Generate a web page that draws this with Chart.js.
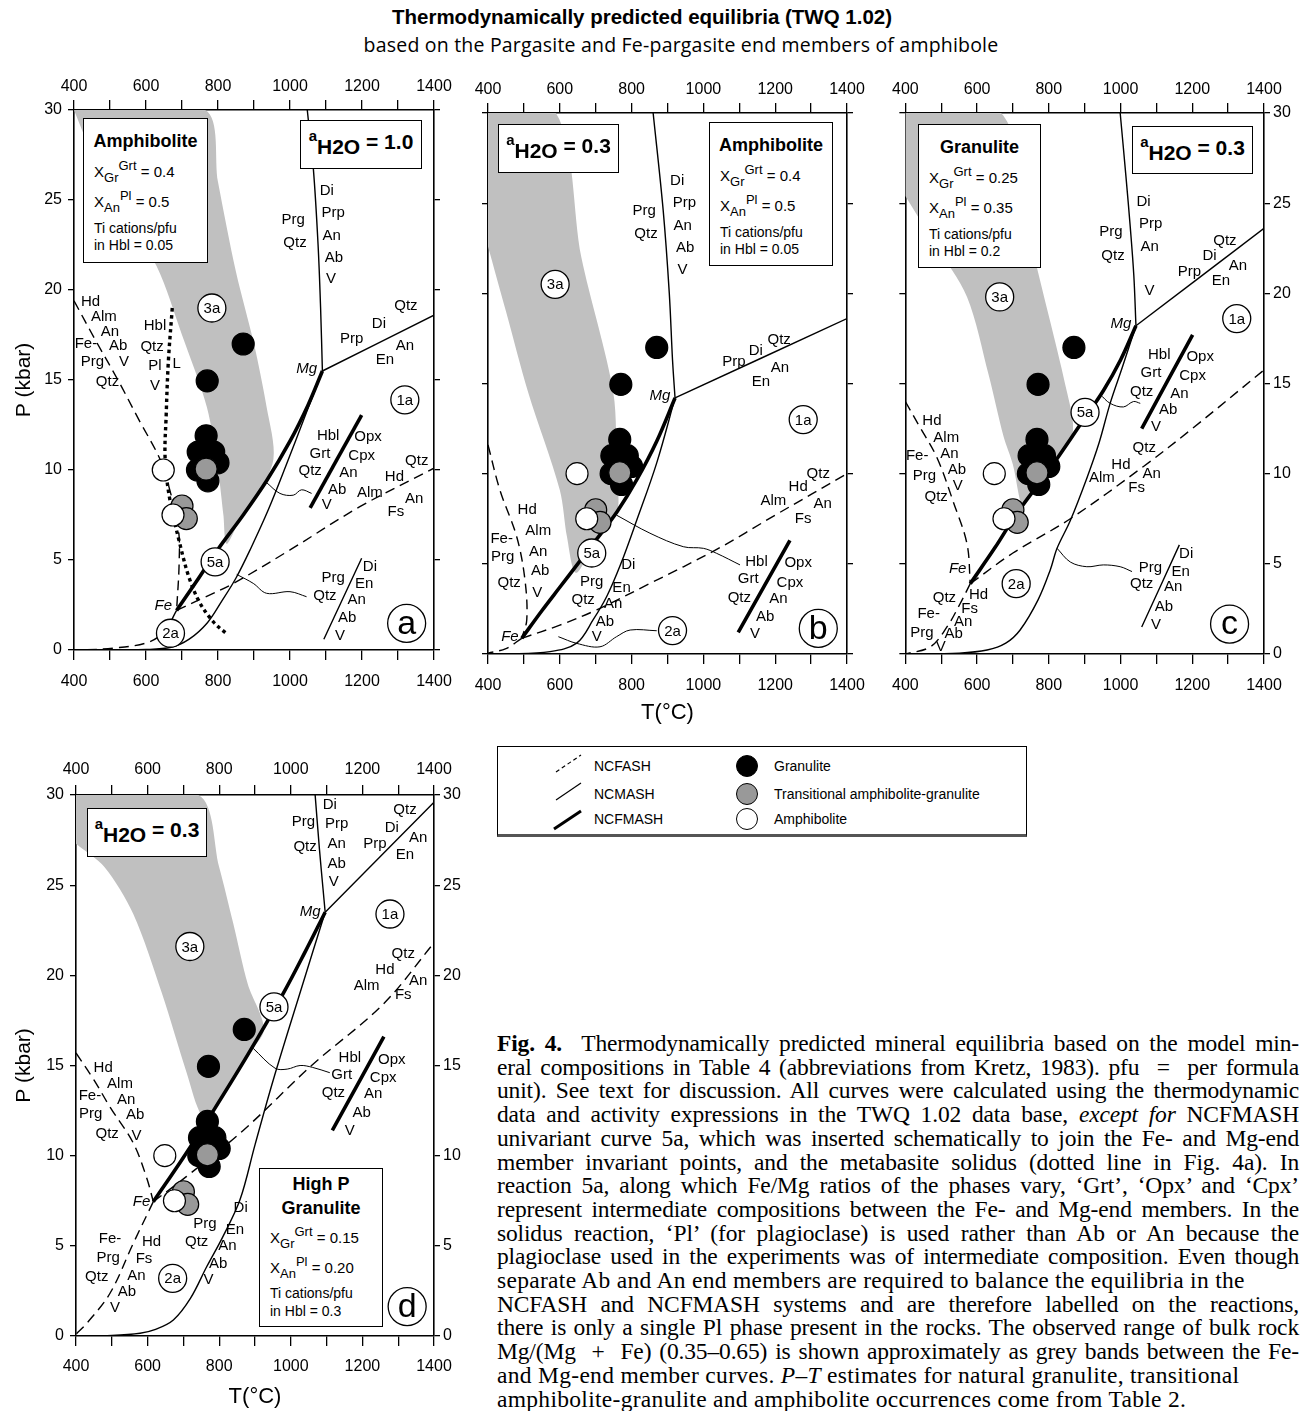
<!DOCTYPE html>
<html>
<head>
<meta charset="utf-8">
<title>Thermodynamically predicted equilibria (TWQ 1.02)</title>
<script src="https://cdn.jsdelivr.net/npm/chart.js@4.4.1/dist/chart.umd.min.js"></script>
<style>
  body { margin:0; width:1300px; height:1411px; position:relative; overflow:hidden; background:#fff; color:#000;
         font-family:Arial,"Liberation Sans",sans-serif; }
  canvas { position:absolute; }
  .head { position:absolute; white-space:nowrap; text-align:center; }
  .box { position:absolute; box-sizing:border-box; border:1.6px solid #000; background:#fff; z-index:5; }
  .box div { position:absolute; left:0; right:0; white-space:nowrap; line-height:20px; }
  .aw { top:11px; text-align:center; font-weight:bold; font-size:21px; }
  .aw .s { font-size:15px; position:relative; top:-8px; }
  .aw .h { position:relative; top:5px; }
  .ct { text-align:center; font-weight:bold; font-size:18px; }
  .cx { padding-left:10px; font-size:15px; }
  .cs { padding-left:10px; font-size:14px; }
  .sb { font-size:13px; position:relative; top:5px; }
  .sp { font-size:13px; position:relative; top:-7px; }
  #legend { position:absolute; left:497px; top:746px; width:530px; height:91px; box-sizing:border-box;
            border:1px solid #000; border-bottom:3px solid #555; font-size:14px; }
  #legend .t { position:absolute; line-height:16px; white-space:nowrap; }
  #legend .dot { position:absolute; width:22px; height:22px; border-radius:50%; border:1.3px solid #000; box-sizing:border-box; }
  .cap { position:absolute; left:497px; top:1032px; width:802px; font-family:"Liberation Serif","Times New Roman",serif;
         font-size:23.5px; line-height:23.7px; }
  .cap div { text-align:justify; text-align-last:justify; white-space:normal; }
  .cap div.r { text-align-last:left; }
</style>
</head>
<body>

<div class="head" style="left:0;width:1284px;top:5px;font-weight:bold;font-size:20.5px">Thermodynamically predicted equilibria (TWQ 1.02)</div>
<div class="head" style="left:0;width:1362px;top:31px;font-family:'Open Sans',sans-serif;font-size:19.5px;letter-spacing:0.2px">based on the Pargasite and Fe-pargasite end members of amphibole</div>

<canvas id="pa" width="480" height="680" style="left:0;top:60px"></canvas>
<canvas id="pb" width="450" height="680" style="left:440px;top:60px"></canvas>
<canvas id="pc" width="420" height="680" style="left:880px;top:60px"></canvas>
<canvas id="pd" width="480" height="671" style="left:0;top:740px"></canvas>

<!-- panel a boxes -->
<div class="box" style="left:300px;top:120px;width:122px;height:49px"><div class="aw"><span class="s">a</span><span class="h">H2O</span> = 1.0</div></div>
<div class="box" style="left:83px;top:118px;width:125px;height:145px">
  <div class="ct" style="top:12px">Amphibolite</div>
  <div class="cx" style="top:43px">X<span class="sb">Gr</span><span class="sp">Grt</span> = 0.4</div>
  <div class="cx" style="top:73px">X<span class="sb">An</span><span class="sp">Pl</span> = 0.5</div>
  <div class="cs" style="top:99px">Ti cations/pfu</div>
  <div class="cs" style="top:116px">in Hbl = 0.05</div>
</div>
<!-- panel b boxes -->
<div class="box" style="left:498px;top:124px;width:121px;height:49px"><div class="aw"><span class="s">a</span><span class="h">H2O</span> = 0.3</div></div>
<div class="box" style="left:709px;top:122px;width:124px;height:144px">
  <div class="ct" style="top:12px">Amphibolite</div>
  <div class="cx" style="top:43px">X<span class="sb">Gr</span><span class="sp">Grt</span> = 0.4</div>
  <div class="cx" style="top:73px">X<span class="sb">An</span><span class="sp">Pl</span> = 0.5</div>
  <div class="cs" style="top:99px">Ti cations/pfu</div>
  <div class="cs" style="top:116px">in Hbl = 0.05</div>
</div>
<!-- panel c boxes -->
<div class="box" style="left:1132px;top:126px;width:121px;height:48px"><div class="aw"><span class="s">a</span><span class="h">H2O</span> = 0.3</div></div>
<div class="box" style="left:918px;top:124px;width:123px;height:144px">
  <div class="ct" style="top:12px">Granulite</div>
  <div class="cx" style="top:43px">X<span class="sb">Gr</span><span class="sp">Grt</span> = 0.25</div>
  <div class="cx" style="top:73px">X<span class="sb">An</span><span class="sp">Pl</span> = 0.35</div>
  <div class="cs" style="top:99px">Ti cations/pfu</div>
  <div class="cs" style="top:116px">in Hbl = 0.2</div>
</div>
<!-- panel d boxes -->
<div class="box" style="left:87px;top:808px;width:120px;height:49px"><div class="aw"><span class="s">a</span><span class="h">H2O</span> = 0.3</div></div>
<div class="box" style="left:259px;top:1168px;width:124px;height:159px">
  <div class="ct" style="top:5px">High P</div>
  <div class="ct" style="top:29px">Granulite</div>
  <div class="cx" style="top:59px">X<span class="sb">Gr</span><span class="sp">Grt</span> = 0.15</div>
  <div class="cx" style="top:89px">X<span class="sb">An</span><span class="sp">Pl</span> = 0.20</div>
  <div class="cs" style="top:114px">Ti cations/pfu</div>
  <div class="cs" style="top:132px">in Hbl = 0.3</div>
</div>

<div id="legend">
  <svg width="530" height="91" style="position:absolute;left:-1px;top:-1px">
    <line x1="59" y1="26" x2="84" y2="9" stroke="#000" stroke-width="1.2" stroke-dasharray="4,3"/>
    <line x1="59" y1="54" x2="84" y2="37" stroke="#000" stroke-width="1.2"/>
    <line x1="57" y1="83" x2="84" y2="65" stroke="#000" stroke-width="3"/>
  </svg>
  <div class="t" style="left:96px;top:11px">NCFASH</div>
  <div class="t" style="left:96px;top:39px">NCMASH</div>
  <div class="t" style="left:96px;top:64px">NCFMASH</div>
  <div class="dot" style="left:238px;top:8px;background:#000"></div>
  <div class="dot" style="left:238px;top:36px;background:#999"></div>
  <div class="dot" style="left:238px;top:61px;background:#fff"></div>
  <div class="t" style="left:276px;top:11px">Granulite</div>
  <div class="t" style="left:276px;top:39px">Transitional amphibolite-granulite</div>
  <div class="t" style="left:276px;top:64px">Amphibolite</div>
</div>

<div class="cap" id="cap">
  <div><b>Fig. 4.</b>&nbsp; Thermodynamically predicted mineral equilibria based on the model min-</div>
  <div>eral compositions in Table 4 (abbreviations from Kretz, 1983). pfu &nbsp;= &nbsp;per formula</div>
  <div>unit). See text for discussion. All curves were calculated using the thermodynamic</div>
  <div>data and activity expressions in the TWQ 1.02 data base, <i>except for</i> NCFMASH</div>
  <div>univariant curve 5a, which was inserted schematically to join the Fe- and Mg-end</div>
  <div>member invariant points, and the metabasite solidus (dotted line in Fig. 4a). In</div>
  <div>reaction 5a, along which Fe/Mg ratios of the phases vary, ‘Grt’, ‘Opx’ and ‘Cpx’</div>
  <div>represent intermediate compositions between the Fe- and Mg-end members. In the</div>
  <div>solidus reaction, ‘Pl’ (for plagioclase) is used rather than Ab or An because the</div>
  <div>plagioclase used in the experiments was of intermediate composition. Even though</div>
  <div class="r">separate Ab and An end members are required to balance the equilibria in the</div>
  <div>NCFASH and NCFMASH systems and are therefore labelled on the reactions,</div>
  <div>there is only a single Pl phase present in the rocks. The observed range of bulk rock</div>
  <div>Mg/(Mg &nbsp;+ &nbsp;Fe) (0.35–0.65) is shown approximately as grey bands between the Fe-</div>
  <div class="r">and Mg-end member curves. <i>P–T</i> estimates for natural granulite, transitional</div>
  <div class="r">amphibolite-granulite and amphibolite occurrences come from Table 2.</div>
</div>

<script>
// axis labels
var tLabels = [400, 600, 800, 1000, 1200, 1400];
var pLabels = [0, 5, 10, 15, 20, 25, 30];

// natural P-T estimates (T in °C, P in kbar), same in every panel
var granulite    = [[870,17.0],[770,14.95],[767,11.9],[745,11.0],[788,11.0],[800,10.4],[743,10.0],[772,9.4]];
var transitional = [[767,10.05],[700,8.0],[712,7.3]];
var amphibolite  = [[648,10.0],[675,7.5]];

// ---- panel a : aH2O = 1.0
var a_band    = [[400,30],[764,30],[800,26],[850,21],[900,17],[935,13.5],[954,10.6],[900,8.3],[860,7.2],[824,5.9],
                 [815,7.5],[800,10],[769,13.5],[700,17.5],[630,21.3],[520,25],[430,28.5]];
var a_mgUp    = [[1048,30],[1065,26.7],[1078,22.5],[1085,19.0],[1090,15.5]];
var a_mgRight = [[1090,15.5],[1400,18.6]];
var a_fePrg   = [[400,19.4],[460,17.2],[522,15.0],[580,12.8],[639,10.6],[662,9.2],[690,6.7],[692,4.8],[685,2.2]];
var a_feRight = [[685,2.2],[760,2.9],[843,3.7],[1000,5.56],[1194,7.96],[1400,10.1]];
var a_feLow   = [[685,2.2],[650,1.0],[602,0.4],[508,0.1],[420,0.0]];
var a_r5a     = [[685,2.2],[740,3.8],[800,5.6],[870,7.5],[935,9.4],[1000,11.6],[1050,13.6],[1090,15.5]];
var a_r2a     = [[1090,15.5],[1040,12.9],[990,10.3],[940,7.8],[890,5.6],[850,4.0],[810,2.7],[770,1.5],[720,0.6],
                 [670,0.15],[600,0.03],[420,0]];
var a_solidus = [[673,19],[662,16],[656,13],[653,10.7],[665,8.5],[694,5.9],[720,4],[750,2.6],[790,1.5],[824,0.9]];
var a_hblKey  = [[1056,7.9],[1199,13.05]];
var a_prgKey  = [[1094,0.6],[1199,5.1]];
var a_lead5a  = [[935,9.3],[972,8.7],[1009,8.6],[1032,8.9],[1060,8.7]];
var a_lead2a  = [[852,4.2],[898,3.7],[935,3.15],[1000,3.24],[1046,2.96]];

// ---- panel b : aH2O = 0.3, amphibolite composition
var b_band    = [[400,30],[589,30],[660,22],[749,14.5],[758,10],[760,7.9],[700,6.3],[645,4.5],[620,6.5],[600,9.1],
                 [512,14.5],[450,19],[400,22.6]];
var b_mgUp    = [[860,30],[888,24.6],[905,20],[914,16.3],[921,14.2]];
var b_mgRight = [[921,14.2],[1400,18.6]];
var b_fePrg   = [[400,11.6],[433,9.1],[480,6.5],[503,4.1],[508,1.9],[494,0.87]];
var b_feRight = [[494,0.87],[600,1.6],[703,2.45],[850,3.9],[1037,5.8],[1200,7.7],[1400,10.0]];
var b_feLow   = [[494,0.87],[450,0.3],[400,0.05]];
var b_r5a     = [[494,0.87],[550,2.4],[600,3.7],[650,5.0],[700,6.3],[760,7.9],[814,9.65],[870,11.8],[921,14.2]];
var b_r2a     = [[921,14.2],[870,10.6],[814,7.4],[770,5.0],[731,3.2],[693,1.9],[647,0.6],[573,0.13],[450,0],[400,0]];
var b_hblKey  = [[1097,1.2],[1241,6.3]];
var b_lead5a  = [[758,7.7],[851,6.7],[944,5.95],[1000,5.86],[1037,5.58],[1102,4.94]];
var b_lead2a  = [[596,0.96],[647,0.59],[712,0.4],[758,0.96],[796,1.33],[870,1.29]];

// ---- panel c : aH2O = 0.3, granulite composition
var c_band    = [[400,30],[667,30],[760,22],[851,14.5],[866,12.2],[804,10.3],[740,8.6],[725,8.2],[700,10.5],[674,12.05],
                 [632,15.5],[572,19.8],[480,22.8],[400,25.4]];
var c_mgUp    = [[999,30],[1015,26.5],[1027,23.7],[1037,21],[1043,18.2]];
var c_mgRight = [[1043,18.2],[1400,23.6]];
var c_fePrg   = [[400,14.0],[440,12.6],[488,10.9],[535,8.36],[572,6.1],[581,3.9]];
var c_feRight = [[581,3.9],[700,5.6],[860,7.5],[1064,10.4],[1200,12.5],[1400,15.75]];
var c_feLow   = [[581,3.9],[553,2.8],[516,1.5],[470,0.4],[400,0]];
var c_r5a     = [[581,3.9],[650,5.9],[711,7.8],[804,10.3],[887,12.7],[952,14.6],[1000,16.3],[1043,18.2]];
var c_r2a     = [[1043,18.2],[1005,15.9],[971,13.9],[940,11.7],[906,9.75],[860,7.4],[823,5.86],[804,4.66],[770,3.0],
                 [720,1.33],[680,0.6],[628,0.22],[550,0.05],[400,0]];
var c_hblKey  = [[1059,12.5],[1201,17.7]];
var c_prgKey  = [[1059,1.5],[1164,6.05]];
var c_lead5a  = [[943,14.4],[971,13.9],[1008,13.7],[1036,14.0],[1055,13.9]];
var c_lead2a  = [[823,5.86],[860,5.1],[906,4.84],[952,4.94],[999,4.84],[1032,4.57]];

// ---- panel d : aH2O = 0.3, high P granulite composition
var d_band    = [[400,30],[742,30],[800,26],[839,22.9],[880,19.5],[925,17.0],[880,15.6],[820,13.7],[784,12.5],[752,12.2],
                 [709,14.6],[640,19],[560,23.4],[480,26],[400,27.3]];
var d_mgUp    = [[1068,30],[1080,27],[1090,24.8],[1096,23.5]];
var d_mgRight = [[1096,23.5],[1400,29.6]];
var d_fePrg   = [[400,15.7],[450,14.2],[495,12.7],[560,10.7],[597,8.8],[616,7.45]];
var d_feRight = [[616,7.45],[709,8.85],[867,11.4],[1058,15.0],[1258,18.4],[1400,21.8]];
var d_feLow   = [[616,7.45],[560,5.14],[495,2.37],[430,0.7],[400,0.1]];
var d_r5a     = [[616,7.45],[700,9.9],[784,12.5],[880,15.6],[979,19.0],[1040,21.3],[1096,23.5]];
var d_r2a     = [[1096,23.5],[1030,19.3],[951,14.2],[900,10.6],[858,7.55],[810,5.5],[765,3.84],[720,2.1],[672,0.89],
                 [620,0.35],[579,0.15],[500,0.03],[400,0]];
var d_hblKey  = [[1116,11.4],[1260,16.6]];
var d_lead5a  = [[895,15.95],[956,14.85],[990,14.8],[1026,15.0],[1060,14.9],[1109,14.6]];

// phase labels, invariant points and reaction numbers, placed at (T, P)
var notes = {
  pa: {
    words: [[1009,23.9,'Prg'],[1014,22.6,'Qtz'],[1102,25.5,'Di'],[1120,24.3,'Prp'],[1116,23.0,'An'],[1122,21.8,'Ab'],[1114,20.6,'V'],
            [1322,19.1,'Qtz'],[1247,18.1,'Di'],[1171,17.3,'Prp'],[1319,16.9,'An'],[1264,16.1,'En'],
            [446,19.35,'Hd'],[483,18.5,'Alm'],[500,17.7,'An'],[433,17.0,'Fe-'],[523,16.9,'Ab'],[451,16.0,'Prg'],[539,16.0,'V'],[493,14.9,'Qtz'],
            [625,18.0,'Hbl'],[617,16.85,'Qtz'],[625,15.8,'Pl'],[625,14.7,'V'],[685,15.9,'L'],
            [1106,11.9,'Hbl'],[1083,10.9,'Grt'],[1056,9.96,'Qtz'],[1217,11.85,'Opx'],[1199,10.8,'Cpx'],[1162,9.85,'An'],[1131,8.9,'Ab'],[1102,8.05,'V'],
            [1352,10.5,'Qtz'],[1290,9.6,'Hd'],[1222,8.75,'Alm'],[1345,8.4,'An'],[1294,7.7,'Fs'],
            [1222,4.6,'Di'],[1120,4.0,'Prg'],[1206,3.67,'En'],[1097,3.0,'Qtz'],[1185,2.8,'An'],[1159,1.8,'Ab'],[1139,0.8,'V']],
    italic: [[1046,15.6,'Mg'],[648,2.44,'Fe']],
    circles: [[783,19.0,'3a'],[1319,13.9,'1a'],[792,4.9,'5a'],[668,0.93,'2a']],
    big: [[1324,1.48,'a']]
  },
  pb: {
    words: [[927,26.25,'Di'],[947,25.0,'Prp'],[942,23.75,'An'],[949,22.5,'Ab'],[942,21.3,'V'],[835,24.6,'Prg'],[840,23.3,'Qtz'],
            [1211,17.4,'Qtz'],[1146,16.8,'Di'],[1085,16.2,'Prp'],[1213,15.85,'An'],[1160,15.1,'En'],
            [509,8.0,'Hd'],[540,6.84,'Alm'],[438,6.4,'Fe-'],[540,5.67,'An'],[441,5.36,'Prg'],[545,4.62,'Ab'],[459,3.92,'Qtz'],[537,3.37,'V'],
            [791,4.94,'Di'],[689,4.0,'Prg'],[772,3.64,'En'],[665,3.0,'Qtz'],[749,2.77,'An'],[726,1.8,'Ab'],[703,0.96,'V'],
            [1320,10.0,'Qtz'],[1264,9.25,'Hd'],[1195,8.5,'Alm'],[1332,8.3,'An'],[1278,7.5,'Fs'],
            [1148,5.1,'Hbl'],[1125,4.14,'Grt'],[1100,3.14,'Qtz'],[1264,5.06,'Opx'],[1241,3.95,'Cpx'],[1209,3.05,'An'],[1172,2.07,'Ab'],[1144,1.1,'V']],
    italic: [[879,14.3,'Mg'],[461,0.93,'Fe']],
    circles: [[587,20.5,'3a'],[1278,13.0,'1a'],[689,5.6,'5a'],[914,1.3,'2a']],
    big: [[1320,1.42,'b']]
  },
  pc: {
    words: [[1064,25.1,'Di'],[1084,23.85,'Prp'],[1081,22.6,'An'],[1081,20.15,'V'],[973,23.4,'Prg'],[979,22.1,'Qtz'],
            [1291,22.9,'Qtz'],[1248,22.1,'Di'],[1192,21.2,'Prp'],[1327,21.5,'An'],[1280,20.7,'En'],
            [1108,16.6,'Hbl'],[1085,15.6,'Grt'],[1059,14.55,'Qtz'],[1222,16.45,'Opx'],[1201,15.4,'Cpx'],[1164,14.45,'An'],[1133,13.55,'Ab'],[1099,12.6,'V'],
            [1066,11.45,'Qtz'],[1001,10.5,'Hd'],[948,9.75,'Alm'],[1087,10.0,'An'],[1045,9.2,'Fs'],
            [474,12.95,'Hd'],[514,12.0,'Alm'],[433,11.0,'Fe-'],[523,11.1,'An'],[453,9.9,'Prg'],[544,10.2,'Ab'],[546,9.3,'V'],[486,8.7,'Qtz'],
            [509,3.14,'Qtz'],[604,3.27,'Hd'],[465,2.2,'Fe-'],[579,2.53,'Fs'],[561,1.8,'An'],[446,1.2,'Prg'],[535,1.1,'Ab'],[499,0.37,'V'],
            [1183,5.55,'Di'],[1083,4.8,'Prg'],[1168,4.57,'En'],[1059,3.9,'Qtz'],[1147,3.7,'An'],[1121,2.6,'Ab'],[1099,1.6,'V']],
    italic: [[1001,18.3,'Mg'],[546,4.7,'Fe']],
    circles: [[663,19.8,'3a'],[1324,18.6,'1a'],[901,13.4,'5a'],[709,3.9,'2a']],
    big: [[1304,1.66,'c']]
  },
  pd: {
    words: [[1035,28.5,'Prg'],[1040,27.1,'Qtz'],[1109,29.45,'Di'],[1128,28.4,'Prp'],[1128,27.3,'An'],[1128,26.2,'Ab'],[1120,25.2,'V'],
            [1319,29.2,'Qtz'],[1282,28.2,'Di'],[1235,27.3,'Prp'],[1356,27.6,'An'],[1319,26.7,'En'],
            [1314,21.2,'Qtz'],[1263,20.3,'Hd'],[1212,19.4,'Alm'],[1356,19.7,'An'],[1314,18.9,'Fs'],
            [1165,15.4,'Hbl'],[1142,14.5,'Grt'],[1119,13.5,'Qtz'],[1282,15.3,'Opx'],[1258,14.3,'Cpx'],[1230,13.4,'An'],[1198,12.4,'Ab'],[1165,11.4,'V'],
            [476,14.85,'Hd'],[523,14.0,'Alm'],[439,13.3,'Fe-'],[540,13.1,'An'],[441,12.3,'Prg'],[565,12.25,'Ab'],[487,11.2,'Qtz'],[569,11.1,'V'],
            [495,5.36,'Fe-'],[490,4.36,'Prg'],[458,3.3,'Qtz'],[611,5.2,'Hd'],[590,4.25,'Fs'],[569,3.33,'An'],[542,2.46,'Ab'],[509,1.54,'V'],
            [860,7.1,'Di'],[760,6.2,'Prg'],[844,5.9,'En'],[737,5.2,'Qtz'],[823,5.0,'An'],[797,4.0,'Ab'],[770,3.1,'V']],
    italic: [[1054,23.5,'Mg'],[583,7.45,'Fe']],
    circles: [[718,21.6,'3a'],[1277,23.4,'1a'],[953,18.25,'5a'],[670,3.2,'2a']],
    big: [[1325,1.63,'d']]
  }
};

var FONT = 'Arial, "Liberation Sans", sans-serif';

var annotate = {
  id: 'annotate',
  afterDatasetsDraw: function (chart) {
    var n = notes[chart.canvas.id];
    if (!n) return;
    var ctx = chart.ctx, sx = chart.scales.x, sy = chart.scales.y;
    function px(p) { return sx.getPixelForValue(p[0]); }
    function py(p) { return sy.getPixelForValue(p[1]); }
    ctx.save();
    ctx.textAlign = 'center';
    ctx.textBaseline = 'middle';
    ctx.fillStyle = '#000';
    ctx.font = '15px ' + FONT;
    n.words.forEach(function (w) { ctx.fillText(w[2], px(w), py(w)); });
    ctx.font = 'italic 15px ' + FONT;
    n.italic.forEach(function (w) { ctx.fillText(w[2], px(w), py(w)); });
    function ring(c, r, size) {
      ctx.beginPath();
      ctx.arc(px(c), py(c), r, 0, Math.PI * 2);
      ctx.fillStyle = '#fff';
      ctx.fill();
      ctx.lineWidth = 1.3;
      ctx.strokeStyle = '#000';
      ctx.stroke();
      ctx.fillStyle = '#000';
      ctx.font = size + 'px ' + FONT;
      ctx.fillText(c[2], px(c), py(c) + 1);
    }
    n.circles.forEach(function (c) { ring(c, 14, 15); });
    n.big.forEach(function (c) { ring(c, 19, 34); });
    ctx.restore();
  }
};

function xy(arr) {
  return arr.map(function (p) { return {x: p[0], y: p[1]}; });
}

var lineStyles = {
  thin:   {borderWidth: 1.4},
  thick:  {borderWidth: 3.6},
  dash:   {borderWidth: 1.4, borderDash: [10, 6]},
  dot:    {borderWidth: 3.4, borderDash: [3.5, 3.5]},
  leader: {borderWidth: 1}
};

function curve(arr, style) {
  var ds = {data: xy(arr), showLine: true, pointRadius: 0, pointHoverRadius: 0, borderColor: '#000',
            fill: false, tension: 0.35, order: 5};
  return Object.assign(ds, lineStyles[style]);
}

function band(arr) {
  return {data: xy(arr), showLine: true, pointRadius: 0, pointHoverRadius: 0, borderWidth: 0,
          borderColor: 'rgba(0,0,0,0)', backgroundColor: '#c0c0c0', fill: 'shape', tension: 0.3, order: 20};
}

function rocks(arr, color, order) {
  return {data: xy(arr), showLine: false, pointRadius: 11, pointHoverRadius: 11, pointBackgroundColor: color,
          pointBorderColor: '#000', pointBorderWidth: 1.2, order: order};
}

function tAxis(position, height, pad, title) {
  return {
    type: 'linear', position: position, min: 400, max: 1400,
    ticks: {stepSize: 100, autoSkip: false, maxRotation: 0, color: '#000', padding: pad,
            font: {size: 16, family: FONT},
            callback: function (v) { return tLabels.indexOf(v) >= 0 ? String(v) : ''; }},
    grid: {drawOnChartArea: false, drawTicks: true, tickLength: 10, color: '#000', lineWidth: 1.3},
    border: {display: true, color: '#000', width: 1.6},
    title: title || {display: false},
    afterFit: function (s) { s.height = height; }
  };
}

function pAxis(position, width, show, pad, title) {
  return {
    type: 'linear', position: position, min: 0, max: 30,
    ticks: {stepSize: 5, display: show, color: '#000', padding: pad, font: {size: 16, family: FONT},
            callback: function (v) { return pLabels.indexOf(v) >= 0 ? String(v) : ''; }},
    grid: {drawOnChartArea: false, drawTicks: true, tickLength: 6, color: '#000', lineWidth: 1.3},
    border: {display: true, color: '#000', width: 1.6},
    title: title || {display: false},
    afterFit: function (s) { s.width = width; }
  };
}

var pTitle = {display: true, text: 'P (kbar)', color: '#000', font: {size: 21, family: FONT}, padding: {top: 12, bottom: 0}};
function tTitle(padBottom) {
  return {display: true, text: 'T(°C)', color: '#000', font: {size: 22, family: FONT}, padding: {top: 0, bottom: padBottom}};
}

function drawPanel(id, sides, labels, titles, datasets) {
  datasets.push(rocks(granulite, '#000', 3), rocks(transitional, '#999', 2), rocks(amphibolite, '#fff', 1));
  new Chart(document.getElementById(id), {
    type: 'scatter',
    data: {datasets: datasets},
    options: {
      responsive: false, animation: false, devicePixelRatio: 1,
      layout: {padding: 0},
      events: [],
      plugins: {legend: {display: false}, tooltip: {enabled: false}},
      scales: {
        x: tAxis('bottom', sides.bottom, sides.padBottom, titles.t),
        xTop: tAxis('top', sides.top, sides.padTop, null),
        y: pAxis('left', sides.left, labels.left, 6, titles.p),
        yRight: pAxis('right', sides.right, labels.right, 3, null)
      }
    },
    plugins: [annotate]
  });
}

drawPanel('pa', {left: 74, right: 46, top: 50, bottom: 90, padTop: 4, padBottom: 12},
  {left: true, right: false}, {p: pTitle},
  [band(a_band), curve(a_mgUp, 'thin'), curve(a_mgRight, 'thin'), curve(a_fePrg, 'dash'), curve(a_feRight, 'dash'),
   curve(a_feLow, 'dash'), curve(a_r5a, 'thick'), curve(a_r2a, 'thin'), curve(a_solidus, 'dot'),
   curve(a_hblKey, 'thick'), curve(a_prgKey, 'thin'), curve(a_lead5a, 'leader'), curve(a_lead2a, 'leader')]);

drawPanel('pb', {left: 48, right: 43, top: 53, bottom: 86, padTop: 4, padBottom: 12},
  {left: false, right: false}, {t: tTitle(14)},
  [band(b_band), curve(b_mgUp, 'thin'), curve(b_mgRight, 'thin'), curve(b_fePrg, 'dash'), curve(b_feRight, 'dash'),
   curve(b_feLow, 'dash'), curve(b_r5a, 'thick'), curve(b_r2a, 'thin'),
   curve(b_hblKey, 'thick'), curve(b_lead5a, 'leader'), curve(b_lead2a, 'leader')]);

drawPanel('pc', {left: 25, right: 36, top: 53, bottom: 86, padTop: 4, padBottom: 12},
  {left: false, right: true}, {},
  [band(c_band), curve(c_mgUp, 'thin'), curve(c_mgRight, 'thin'), curve(c_fePrg, 'dash'), curve(c_feRight, 'dash'),
   curve(c_feLow, 'dash'), curve(c_r5a, 'thick'), curve(c_r2a, 'thin'),
   curve(c_hblKey, 'thick'), curve(c_prgKey, 'thin'), curve(c_lead5a, 'leader'), curve(c_lead2a, 'leader')]);

drawPanel('pd', {left: 76, right: 46, top: 55, bottom: 75, padTop: 6, padBottom: 11},
  {left: true, right: true}, {p: pTitle, t: tTitle(1)},
  [band(d_band), curve(d_mgUp, 'thin'), curve(d_mgRight, 'thin'), curve(d_fePrg, 'dash'), curve(d_feRight, 'dash'),
   curve(d_feLow, 'dash'), curve(d_r5a, 'thick'), curve(d_r2a, 'thin'),
   curve(d_hblKey, 'thick'), curve(d_lead5a, 'leader')]);

// caption: tighten or loosen letter spacing per line so each line sits close to the column width
document.querySelectorAll('#cap div').forEach(function (line) {
  var html = line.innerHTML;
  line.innerHTML = '<span style="white-space:nowrap">' + html + '</span>';
  var w = line.firstChild.getBoundingClientRect().width;
  var n = line.textContent.length;
  var ls = line.classList.contains('r') ? 0.3 : Math.max(-1.2, Math.min(0.8, (790 - w) / n));
  line.innerHTML = html;
  line.style.letterSpacing = ls.toFixed(2) + 'px';
});
</script>
</body>
</html>
